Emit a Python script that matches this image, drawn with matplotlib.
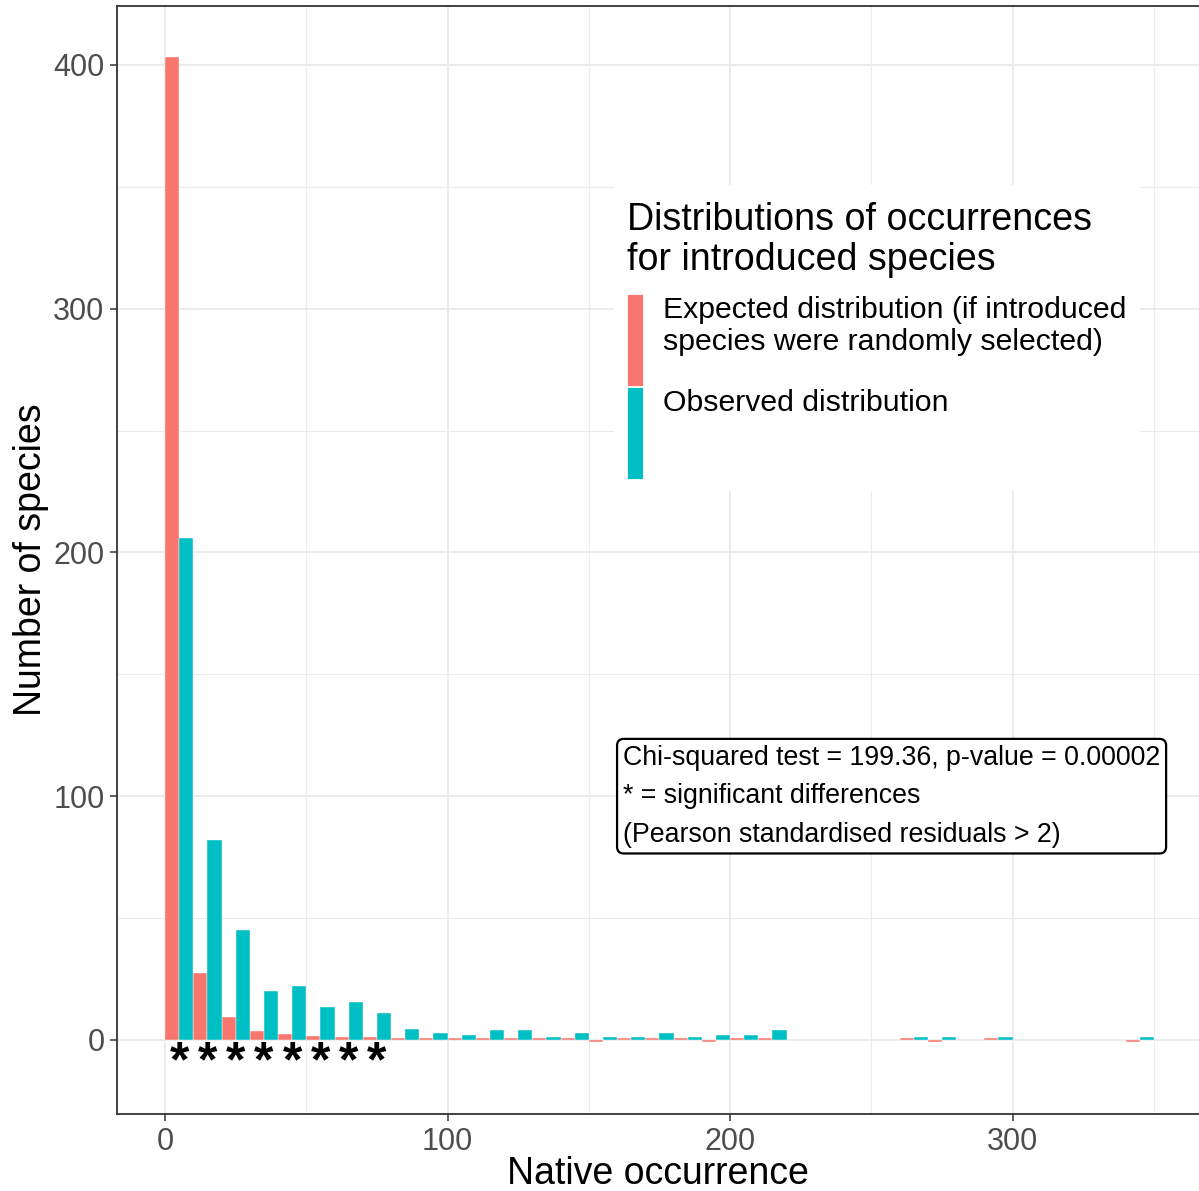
import matplotlib

matplotlib.use("Agg")
import matplotlib.pyplot as plt
from matplotlib.patches import Rectangle


# 10-unit bins of native occurrence (only bins that have any bar)
BIN_STARTS = [0, 10, 20, 30, 40, 50, 60, 70, 80, 90, 100, 110, 120, 130, 140,
              150, 160, 170, 180, 190, 200, 210, 260, 270, 290, 340]
EXPECTED = [403.3, 27.5, 9.6, 3.7, 2.5, 1.8, 1.2, 1.2, 0.8, 0.7, 0.7, 0.7, 0.7,
            0.7, 0.7, -0.7, 0.7, 0.7, 0.7, -0.7, 0.7, 0.7, 0.6, -0.7, 0.6, -0.7]
OBSERVED = [206, 82, 45, 20, 22, 13.5, 15.5, 11, 4.5, 3, 2, 4, 4, 1, 3,
            1, 1, 3, 1, 2, 2, 4, 1, 1, 1, 1]
SIGNIFICANT_BINS = [0, 10, 20, 30, 40, 50, 60, 70]
BIN_WIDTH = 10

SERIES_LABELS = ["Expected distribution (if introduced\nspecies were randomly selected)",
                 "Observed distribution"]
SERIES_COLORS = ["#F8766D", "#00BFC4"]
LEGEND_TITLE = "Distributions of occurrences\nfor introduced species"
STATS_LINES = ["Chi-squared test = 199.36, p-value = 0.00002",
               "* = significant differences",
               "(Pearson standardised residuals > 2)"]

X_TICKS = [0, 100, 200, 300]
Y_TICKS = [0, 100, 200, 300, 400]

plt.rcParams["font.family"] = ["Liberation Sans", "DejaVu Sans"]

W, H = 1199, 1191
fig = plt.figure(figsize=(W / 100, H / 100), dpi=100)
ax = fig.add_axes([117 / W, 1 - 1114 / H, (W - 117) / W, 1108 / H])

half = BIN_WIDTH / 2
ax.bar(BIN_STARTS, EXPECTED, width=half, align="edge",
       color=SERIES_COLORS[0], edgecolor="white", linewidth=0.3, zorder=3)
ax.bar([b + half for b in BIN_STARTS], OBSERVED, width=half, align="edge",
       color=SERIES_COLORS[1], edgecolor="white", linewidth=0.3, zorder=3)

for b in SIGNIFICANT_BINS:
    ax.text(b + half, -9.8, "*", ha="center", va="center", fontsize=36,
            fontweight="bold", color="black", zorder=4)

ax.set_xlim(-17, 366)
ax.set_ylim(-30.4, 424.2)
ax.set_xticks(X_TICKS)
ax.set_yticks(Y_TICKS)
ax.set_xticks([50, 150, 250, 350], minor=True)
ax.set_yticks([50, 150, 250, 350], minor=True)
ax.grid(which="major", color="#EBEBEB", linewidth=1.4, zorder=0)
ax.grid(which="minor", color="#EBEBEB", linewidth=0.8, zorder=0)
ax.set_axisbelow(True)
ax.tick_params(which="major", length=5, width=1.1, color="#333333",
               labelcolor="#4D4D4D", labelsize=22, pad=4)
ax.tick_params(which="minor", length=0)
for side in ["left", "bottom", "top"]:
    ax.spines[side].set_color("#333333")
    ax.spines[side].set_linewidth(1.3)
ax.spines["right"].set_visible(False)

ax.set_xlabel("Native occurrence", fontsize=27, labelpad=0)
ax.set_ylabel("Number of species", fontsize=27, labelpad=3)

# statistics label box
ax.text(162.1, 100, "\n".join(STATS_LINES), ha="left", va="center", fontsize=19.3,
        linespacing=1.62, zorder=5,
        bbox=dict(boxstyle="round,pad=0.22,rounding_size=0.25", fc="white",
                  ec="black", lw=1.6))


# legend drawn inside the panel, in axes fractions
def fx(px):
    return (px - 117) / (W - 117)


def fy(py):
    return (1114 - py) / 1108


tr = ax.transAxes
ax.add_patch(Rectangle((fx(614), fy(491)), fx(1140) - fx(614), fy(185) - fy(491),
                       transform=tr, fc="white", ec="none", zorder=4))
for i, line in enumerate(LEGEND_TITLE.split("\n")):
    ax.text(fx(627), fy(230 + 40 * i), line, transform=tr, ha="left",
            va="baseline", fontsize=27.1, zorder=5)
key_tops = [294, 387]
for top, color, label in zip(key_tops, SERIES_COLORS, SERIES_LABELS):
    ax.add_patch(Rectangle((fx(627), fy(top + 92)), fx(643) - fx(627), fy(top) - fy(top + 92),
                           transform=tr, fc=color, ec="white", lw=0.6, zorder=5))
    for j, line in enumerate(label.split("\n")):
        ax.text(fx(663), fy(top + 24 + 32 * j), line, transform=tr, ha="left",
                va="baseline", fontsize=21.75, zorder=5)

fig.savefig("out.png", dpi=100)
